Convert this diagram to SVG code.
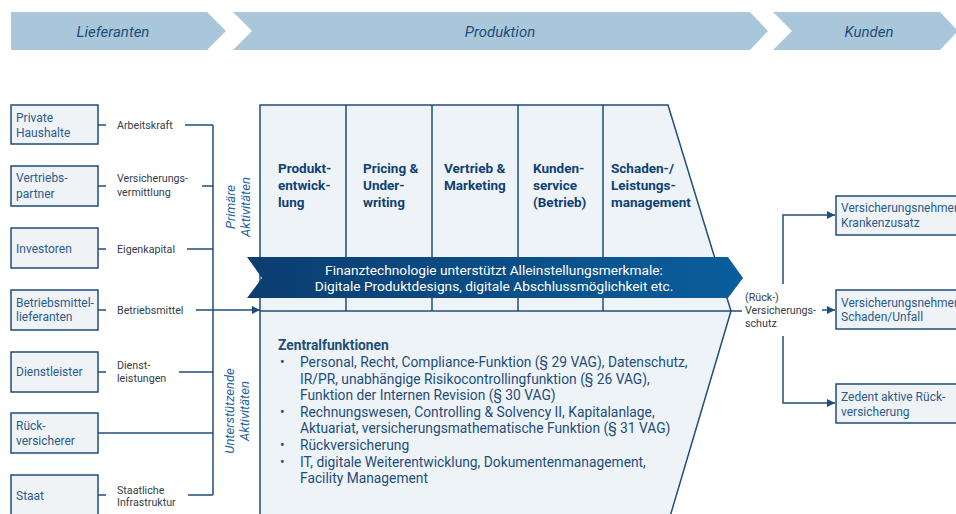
<svg xmlns="http://www.w3.org/2000/svg" width="956" height="514" viewBox="0 0 956 514">
<style>
.hdr{fill:#a9c6da}
.htx{font-family:Roboto,"Liberation Sans",sans-serif;font-size:15px;font-style:italic;fill:#1f4e79;text-anchor:middle}
.box{fill:#f0f3f6;stroke:#1f4e79;stroke-width:1.5}
.btx{font-family:Roboto,"Liberation Sans",sans-serif;font-size:12px;fill:#2a5b8c}
.lbl{font-family:Roboto,"Liberation Sans",sans-serif;font-size:10.7px;fill:#333c48}
.ln{fill:none;stroke:#1f4e79;stroke-width:1.5}
.rot{font-family:Roboto,"Liberation Sans",sans-serif;font-size:13px;font-style:italic;fill:#2563a0;text-anchor:middle}
.prod{fill:#eef3f8;stroke:#1f4e79;stroke-width:1.5}
.col{font-family:Roboto,"Liberation Sans",sans-serif;font-size:13.5px;font-weight:bold;fill:#0f4272}
.zt{font-family:Roboto,"Liberation Sans",sans-serif;font-size:13.8px;fill:#1f4e79}
.ban{font-family:Roboto,"Liberation Sans",sans-serif;font-size:13.7px;fill:#ffffff;text-anchor:middle}
</style>
<defs>
<marker id="ah" viewBox="0 0 10 10" refX="10" refY="5" markerWidth="8" markerHeight="8" markerUnits="userSpaceOnUse" orient="auto">
<path d="M0,0 L10,5 L0,10 z" fill="#1f4e79"/>
</marker>
<linearGradient id="bg" x1="0" y1="0" x2="1" y2="0">
<stop offset="0" stop-color="#0c3d70"/>
<stop offset="1" stop-color="#0a5e9c"/>
</linearGradient>
</defs>

<g id="header">
<polygon class="hdr" points="11,12 207,12 226,31 207,50 11,50"/>
<polygon class="hdr" points="233,12 750,12 768,31 750,50 233,50 252,31"/>
<polygon class="hdr" points="773,12 940,12 958,31 940,50 773,50 792,31"/>
<text class="htx" x="113" y="36.5">Lieferanten</text>
<text class="htx" x="500" y="36.5">Produktion</text>
<text class="htx" x="869" y="36.5">Kunden</text>
</g>

<g id="production">
<polygon class="prod" points="260,105 668,105 731,311 669,520 260,520"/>
<line class="ln" x1="260" y1="311" x2="731" y2="311"/>
<line class="ln" x1="346" y1="105" x2="346" y2="311"/>
<line class="ln" x1="432" y1="105" x2="432" y2="311"/>
<line class="ln" x1="518" y1="105" x2="518" y2="311"/>
<line class="ln" x1="603" y1="105" x2="603" y2="311"/>
<text class="col"><tspan x="278" y="173">Produkt-</tspan><tspan x="278" y="190">entwick-</tspan><tspan x="278" y="207">lung</tspan></text>
<text class="col"><tspan x="363" y="173">Pricing &amp;</tspan><tspan x="363" y="190">Under-</tspan><tspan x="363" y="207">writing</tspan></text>
<text class="col"><tspan x="444" y="173">Vertrieb &amp;</tspan><tspan x="444" y="190">Marketing</tspan></text>
<text class="col"><tspan x="533" y="173">Kunden-</tspan><tspan x="533" y="190">service</tspan><tspan x="533" y="207">(Betrieb)</tspan></text>
<text class="col"><tspan x="611" y="173">Schaden-/</tspan><tspan x="611" y="190">Leistungs-</tspan><tspan x="611" y="207">management</tspan></text>
</g>

<g id="banner">
<polygon fill="url(#bg)" points="247,257 728,257 743,278 728,298 247,298 262,278"/>
<text class="ban" x="494" y="275">Finanztechnologie unterstützt Alleinstellungsmerkmale:</text>
<text class="ban" x="494" y="291">Digitale Produktdesigns, digitale Abschlussmöglichkeit etc.</text>
</g>

<g id="zentralfunktionen">
<text class="zt" x="278" y="350" font-weight="bold" fill="#0f4272">Zentralfunktionen</text>
<text class="zt" x="280" y="367">•</text>
<text class="zt" x="300" y="367">Personal, Recht, Compliance-Funktion (§ 29 VAG), Datenschutz,</text>
<text class="zt" x="300" y="384">IR/PR, unabhängige Risikocontrollingfunktion (§ 26 VAG),</text>
<text class="zt" x="300" y="400">Funktion der Internen Revision (§ 30 VAG)</text>
<text class="zt" x="280" y="417">•</text>
<text class="zt" x="300" y="417">Rechnungswesen, Controlling &amp; Solvency II, Kapitalanlage,</text>
<text class="zt" x="300" y="433">Aktuariat, versicherungsmathematische Funktion (§ 31 VAG)</text>
<text class="zt" x="280" y="450">•</text>
<text class="zt" x="300" y="450">Rückversicherung</text>
<text class="zt" x="280" y="467">•</text>
<text class="zt" x="300" y="467">IT, digitale Weiterentwicklung, Dokumentenmanagement,</text>
<text class="zt" x="300" y="483">Facility Management</text>
</g>

<g id="side-labels">
<text class="rot" transform="translate(235,207) rotate(-90)">Primäre</text>
<text class="rot" transform="translate(250,207) rotate(-90)">Aktivitäten</text>
<text class="rot" transform="translate(234,411) rotate(-90)">Unterstützende</text>
<text class="rot" transform="translate(249,411) rotate(-90)">Aktivitäten</text>
</g>

<g id="connectors">
<line class="ln" x1="213" y1="125" x2="213" y2="495"/>
<polyline class="ln" points="98,125 106,125"/>
<polyline class="ln" points="185,125 213,125"/>
<polyline class="ln" points="98,186 106,186"/>
<polyline class="ln" points="202,186 213,186"/>
<polyline class="ln" points="98,249 106,249"/>
<polyline class="ln" points="187,249 213,249"/>
<polyline class="ln" points="98,310 106,310"/>
<polyline class="ln" points="196,310 213,310"/>
<line class="ln" x1="213" y1="310" x2="260" y2="310" marker-end="url(#ah)"/>
<polyline class="ln" points="98,372 106,372"/>
<polyline class="ln" points="179,372 213,372"/>
<polyline class="ln" points="98,433 213,433"/>
<polyline class="ln" points="98,495 106,495"/>
<polyline class="ln" points="188,495 213,495"/>
<line class="ln" x1="731" y1="311" x2="742" y2="311"/>
<polyline class="ln" points="783,284 783,215 835,215" marker-end="url(#ah)"/>
<line class="ln" x1="822" y1="310" x2="835" y2="310" marker-end="url(#ah)"/>
<polyline class="ln" points="783,336 783,403 835,403" marker-end="url(#ah)"/>
</g>

<g id="flow-labels">
<text class="lbl" x="117" y="128.5">Arbeitskraft</text>
<text class="lbl" x="117" y="182">Versicherungs-</text>
<text class="lbl" x="117" y="196">vermittlung</text>
<text class="lbl" x="117" y="252.5">Eigenkapital</text>
<text class="lbl" x="117" y="313.5">Betriebsmittel</text>
<text class="lbl" x="117" y="368.5">Dienst-</text>
<text class="lbl" x="117" y="382">leistungen</text>
<text class="lbl" x="117" y="493.5">Staatliche</text>
<text class="lbl" x="117" y="505.5">Infrastruktur</text>
<text class="lbl" x="745" y="301">(Rück-)</text>
<text class="lbl" x="745" y="314">Versicherungs-</text>
<text class="lbl" x="745" y="327">schutz</text>
</g>

<g id="node-private-haushalte">
<rect class="box" x="11" y="105" width="87" height="39"/>
<text class="btx" x="16" y="122">Private</text>
<text class="btx" x="16" y="137">Haushalte</text>
</g>
<g id="node-vertriebspartner">
<rect class="box" x="11" y="166" width="87" height="40"/>
<text class="btx" x="16" y="182">Vertriebs-</text>
<text class="btx" x="16" y="198">partner</text>
</g>
<g id="node-investoren">
<rect class="box" x="11" y="228" width="87" height="40"/>
<text class="btx" x="16" y="253">Investoren</text>
</g>
<g id="node-betriebsmittellieferanten">
<rect class="box" x="11" y="290" width="87" height="40"/>
<text class="btx" x="16" y="307">Betriebsmittel-</text>
<text class="btx" x="16" y="321">lieferanten</text>
</g>
<g id="node-dienstleister">
<rect class="box" x="11" y="352" width="87" height="40"/>
<text class="btx" x="16" y="376">Dienstleister</text>
</g>
<g id="node-rueckversicherer">
<rect class="box" x="11" y="413" width="87" height="40"/>
<text class="btx" x="16" y="430">Rück-</text>
<text class="btx" x="16" y="445">versicherer</text>
</g>
<g id="node-staat">
<rect class="box" x="11" y="475" width="87" height="45"/>
<text class="btx" x="16" y="500">Staat</text>
</g>

<g id="node-vn-krankenzusatz">
<rect class="box" x="836" y="196" width="130" height="39"/>
<text class="btx" x="841" y="212">Versicherungsnehmer</text>
<text class="btx" x="841" y="227">Krankenzusatz</text>
</g>
<g id="node-vn-schaden-unfall">
<rect class="box" x="836" y="290" width="130" height="39"/>
<text class="btx" x="841" y="307">Versicherungsnehmer</text>
<text class="btx" x="841" y="321">Schaden/Unfall</text>
</g>
<g id="node-zedent">
<rect class="box" x="836" y="384" width="130" height="39"/>
<text class="btx" x="841" y="401">Zedent aktive Rück-</text>
<text class="btx" x="841" y="416">versicherung</text>
</g>
</svg>
